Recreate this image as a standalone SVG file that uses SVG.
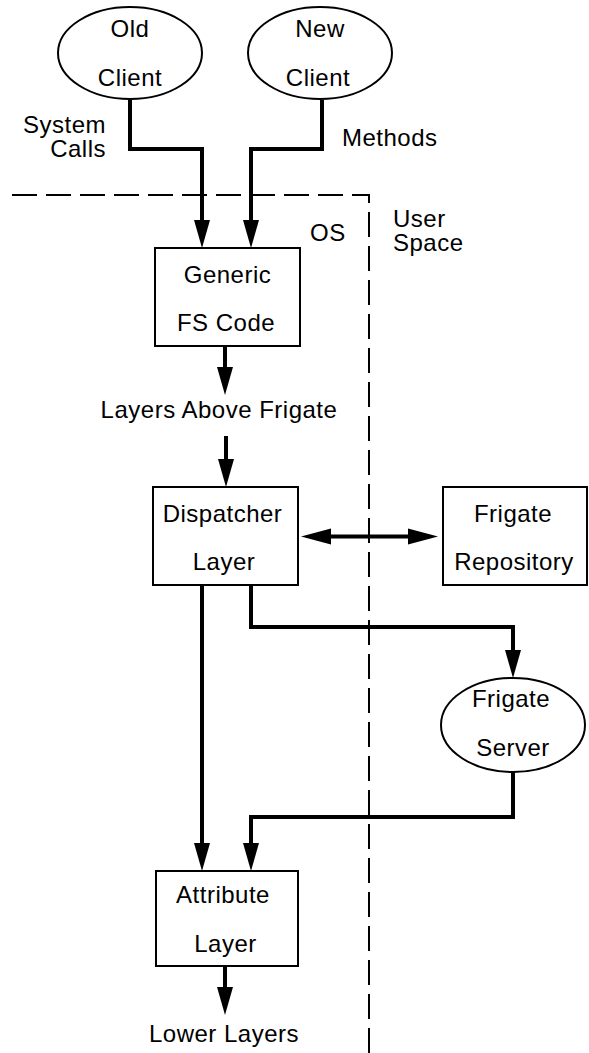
<svg xmlns="http://www.w3.org/2000/svg" width="589" height="1053" viewBox="0 0 589 1053">
  <style>
    text { font-family: "Liberation Sans", Arial, Helvetica, sans-serif; font-size: 24px; letter-spacing: 0.5px; fill: #000; }
    .c { text-anchor: middle; }
    .e { text-anchor: end; }
    .box { fill: #fff; stroke: #000; stroke-width: 2; }
    .flow { fill: none; stroke: #000; stroke-width: 4; stroke-linejoin: miter; }
    .boundary { fill: none; stroke: #000; stroke-width: 2; stroke-dasharray: 25 9; }
  </style>
  <defs>
    <marker id="head" markerUnits="userSpaceOnUse" markerWidth="28" markerHeight="16" refX="0" refY="8" orient="auto-start-reverse" overflow="visible">
      <path d="M0,0 L28,8 L0,16 Z" fill="#000"/>
    </marker>
    <marker id="headLong" markerUnits="userSpaceOnUse" markerWidth="30" markerHeight="16" refX="0" refY="8" orient="auto-start-reverse" overflow="visible">
      <path d="M0,0 L30,8 L0,16 Z" fill="#000"/>
    </marker>
  </defs>

  <!-- OS / user space boundary -->
  <g id="boundary">
    <path class="boundary" d="M12,195 H369 V1053"/>
    <text x="310" y="241">OS</text>
    <text x="393" y="227">User</text>
    <text x="393" y="251">Space</text>
  </g>

  <g id="connectors">
    <path class="flow" d="M130,100 V149 H202 V220" marker-end="url(#head)"/>
    <path class="flow" d="M322,100 V149 H251 V220" marker-end="url(#head)"/>
    <path class="flow" d="M225,346 V367" marker-end="url(#head)"/>
    <path class="flow" d="M226,436 V459" marker-end="url(#head)"/>
    <path class="flow" d="M331,536.5 H408" marker-start="url(#headLong)" marker-end="url(#headLong)"/>
    <path class="flow" d="M251,585 V627 H513 V650" marker-end="url(#head)"/>
    <path class="flow" d="M513,772 V817 H251 V843" marker-end="url(#head)"/>
    <path class="flow" d="M202,585 V843" marker-end="url(#head)"/>
    <path class="flow" d="M225,966 V987" marker-end="url(#head)"/>
    <text class="e" x="106" y="133">System</text>
    <text class="e" x="106" y="157">Calls</text>
    <text x="342" y="146">Methods</text>
    <text class="c" x="219" y="418">Layers Above Frigate</text>
    <text class="c" x="224" y="1042">Lower Layers</text>
  </g>

  <g id="old-client">
    <ellipse class="box" cx="130" cy="53" rx="72" ry="46"/>
    <text class="c" x="130" y="37">Old</text>
    <text class="c" x="130" y="86">Client</text>
  </g>

  <g id="new-client">
    <ellipse class="box" cx="320" cy="53" rx="72" ry="46"/>
    <text class="c" x="320" y="37">New</text>
    <text class="c" x="318" y="86">Client</text>
  </g>

  <g id="generic-fs-code">
    <rect class="box" x="155" y="248" width="145" height="98"/>
    <text class="c" x="227.5" y="283">Generic</text>
    <text class="c" x="226" y="331">FS Code</text>
  </g>

  <g id="dispatcher-layer">
    <rect class="box" x="153" y="487" width="145" height="98"/>
    <text class="c" x="222.5" y="522">Dispatcher</text>
    <text class="c" x="224" y="570">Layer</text>
  </g>

  <g id="frigate-repository">
    <rect class="box" x="443" y="487" width="144" height="98"/>
    <text class="c" x="513" y="522">Frigate</text>
    <text class="c" x="514" y="570">Repository</text>
  </g>

  <g id="frigate-server">
    <ellipse class="box" cx="513" cy="725" rx="72" ry="47"/>
    <text class="c" x="511" y="707">Frigate</text>
    <text class="c" x="513" y="756">Server</text>
  </g>

  <g id="attribute-layer">
    <rect class="box" x="156" y="871" width="142" height="95"/>
    <text class="c" x="223" y="903">Attribute</text>
    <text class="c" x="225.5" y="952">Layer</text>
  </g>
</svg>
